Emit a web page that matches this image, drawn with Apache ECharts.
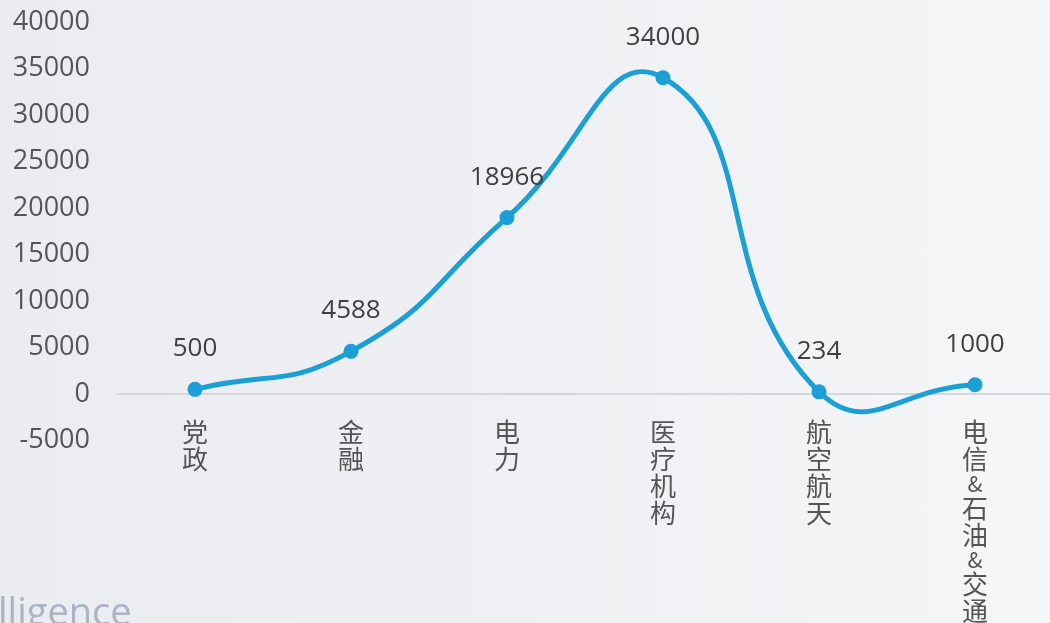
<!DOCTYPE html>
<html><head><meta charset="utf-8">
<script src="https://cdn.jsdelivr.net/npm/echarts@6/dist/echarts.min.js"></script>
<style>html,body{margin:0;padding:0;}#c{width:1050px;height:623px;background:linear-gradient(90deg,#eaecf0 0%,#eef0f3 50%,#f5f6f7 100%);}</style>
</head><body><div id="c"></div>
<script>
const categories = ['党政', '金融', '电力', '医疗机构', '航空航天', '电信&石油&交通'];
const values = [500, 4588, 18966, 34000, 234, 1000];
const yMin = -5000, yMax = 40000, yStep = 5000;
const SMOOTH = 0.5;
const LINE_COLOR = '#1b9fd5';

// Cardinal-style smoothing (unconstrained), control points computed from the
// pixel positions that the chart's own scales give for each data point.
function curvePath(pts) {
  const n = pts.length;
  const cps = pts.map(function (p, i) {
    const prev = pts[i > 0 ? i - 1 : i];
    const next = pts[i < n - 1 ? i + 1 : i];
    const vx = (next[0] - prev[0]) * SMOOTH, vy = (next[1] - prev[1]) * SMOOTH;
    let d0 = Math.hypot(p[0] - prev[0], p[1] - prev[1]);
    let d1 = Math.hypot(p[0] - next[0], p[1] - next[1]);
    const s = d0 + d1;
    if (s) { d0 /= s; d1 /= s; }
    return { c0: [p[0] - vx * d0, p[1] - vy * d0], c1: [p[0] + vx * d1, p[1] + vy * d1] };
  });
  let d = 'M' + pts[0][0] + ' ' + pts[0][1];
  for (let i = 0; i < n - 1; i++) {
    d += ' C' + cps[i].c1[0] + ' ' + cps[i].c1[1] + ' ' + cps[i + 1].c0[0] + ' ' + cps[i + 1].c0[1] + ' ' + pts[i + 1][0] + ' ' + pts[i + 1][1];
  }
  return d;
}

const chart = echarts.init(document.getElementById('c'));
chart.setOption({
  backgroundColor: 'transparent',
  grid: { left: 117, right: -3, top: 22, bottom: 182.5, containLabel: false, outerBoundsMode: 'none' },
  graphic: [{
    type: 'text', left: -2, top: 595,
    style: { text: 'lligence', fontSize: 38, fill: '#a9b4c5', fontFamily: 'Open Sans' }
  }],
  xAxis: {
    type: 'category', data: categories, boundaryGap: true,
    axisLine: { lineStyle: { color: '#d4d6da', width: 2 } },
    axisTick: { show: false },
    axisLabel: {
      interval: 0, margin: -22, color: '#555', fontSize: 26, fontFamily: 'Noto Sans CJK SC',
      lineHeight: 27,
      formatter: function (v) {
        return v.split('').map(function (ch) { return ch === '&' ? '{a|&}' : ch; }).join('\n');
      },
      rich: { a: { fontSize: 22, lineHeight: 22, color: '#555', fontFamily: 'Noto Sans CJK SC' } }
    }
  },
  yAxis: {
    type: 'value', min: yMin, max: yMax, interval: yStep,
    splitLine: { show: false },
    axisLine: { show: false }, axisTick: { show: false },
    axisLabel: { color: '#555', fontSize: 27, margin: 27, fontFamily: 'Open Sans',
      formatter: function (v) { return String(v); } }
  },
  series: [{
    type: 'custom', data: values, z: 2, silent: true,
    renderItem: function (params, api) {
      if (params.dataIndex !== 0) return null;
      const pts = values.map(function (v, i) { return api.coord([i, v]); });
      return {
        type: 'path',
        shape: { pathData: curvePath(pts) },
        style: { fill: 'none', stroke: LINE_COLOR, lineWidth: 5, lineJoin: 'round' }
      };
    }
  }, {
    type: 'line', data: values, z: 3,
    symbol: 'circle', symbolSize: 15,
    itemStyle: { color: LINE_COLOR },
    lineStyle: { width: 0, opacity: 0 },
    label: { show: true, position: 'top', distance: 20, color: '#404040', fontSize: 26, fontFamily: 'Open Sans' }
  }]
});
</script></body></html>
